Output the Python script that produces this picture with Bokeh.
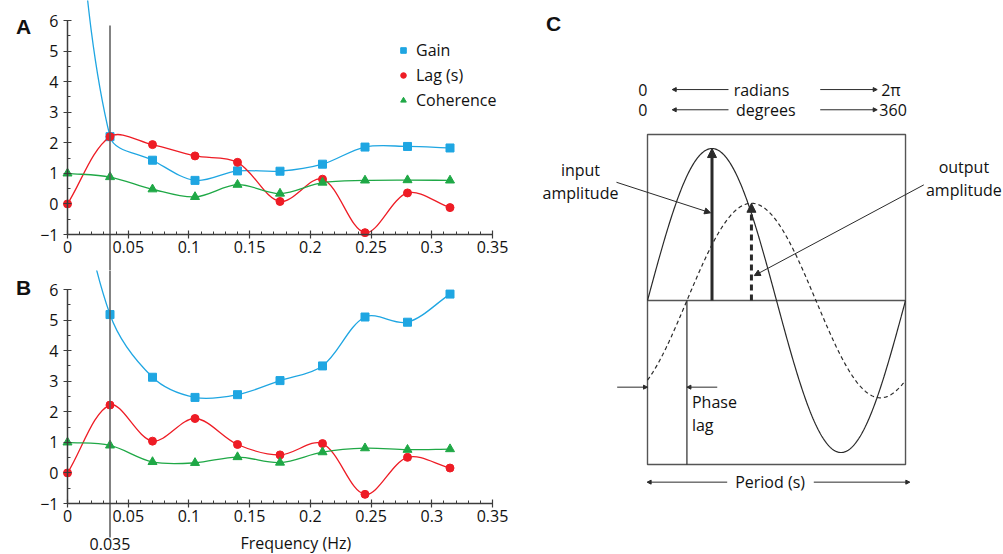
import numpy as np
from bokeh.plotting import figure
from bokeh.layouts import row, column
from bokeh.models import (Range1d, FixedTicker, NumeralTickFormatter, Label, Arrow,
                          NormalHead, Legend, LegendItem, LinearAxis)
from bokeh.embed import file_html
from bokeh.resources import INLINE

# ---------------- data ----------------
freq = [0, 0.035, 0.07, 0.105, 0.14, 0.175, 0.21, 0.245, 0.28, 0.315]
# Panel A  (gain at 0 Hz is off-scale, estimated)
gain_a = [13.0, 2.20, 1.43, 0.77, 1.08, 1.07, 1.30, 1.86, 1.88, 1.83]
lag_a = [0.0, 2.20, 1.94, 1.57, 1.36, 0.08, 0.81, -0.94, 0.36, -0.12]
coh_a = [1.0, 0.88, 0.48, 0.23, 0.63, 0.34, 0.70, 0.77, 0.78, 0.77]
# Panel B  (gain at 0 Hz is off-scale, estimated)
gain_b = [11.0, 5.18, 3.13, 2.47, 2.56, 3.02, 3.50, 5.10, 4.93, 5.85]
lag_b = [0.0, 2.22, 1.04, 1.78, 0.93, 0.59, 0.96, -0.70, 0.51, 0.16]
coh_b = [1.0, 0.90, 0.36, 0.33, 0.52, 0.34, 0.68, 0.81, 0.76, 0.78]

x_ticks = [0, 0.05, 0.1, 0.15, 0.2, 0.25, 0.3, 0.35]
x_minor = [round(0.01 * i, 2) for i in range(36)]
y_ticks = [-1, 0, 1, 2, 3, 4, 5, 6]
y_minor = [-0.5, 0.5, 1.5, 2.5, 3.5, 4.5, 5.5]
marked_freq = 0.035

series_names = ["Gain", "Lag (s)", "Coherence"]
series_colors = ["#1FA6E2", "#EE1C25", "#1FA846"]
series_markers = ["square", "circle", "triangle"]

# diagram parameters (panel C)
input_amp = 1.0
output_amp = 0.64
phase_lag_deg = 55

FONT = "Open Sans"
TXT = "#111111"
AX = "#3c3c3c"

# geometry of the two left panels (pixels)
W_LEFT = 520
PLOT_L, PLOT_W, PLOT_H = 67, 425, 214
X0, X1, Y0, Y1 = 0, 0.35, -1, 6
KX, KY = PLOT_W / (X1 - X0), PLOT_H / (Y1 - Y0)


def smooth(xs, ys):
    """Bezier control points (Excel-like smoothing, chord-length weighted)."""
    P = np.column_stack([np.asarray(xs, float) * KX, np.asarray(ys, float) * KY])
    n = len(P)
    out = {k: [] for k in ("x0", "y0", "x1", "y1", "cx0", "cy0", "cx1", "cy1")}
    for i in range(n - 1):
        a, b = P[i], P[i + 1]
        prev = P[i - 1] if i > 0 else a
        nxt = P[i + 2] if i + 2 < n else b
        dp, dc, dn = np.hypot(*(a - prev)), np.hypot(*(b - a)), np.hypot(*(nxt - b))
        c0 = a + (b - prev) * (dc / (dp + dc)) / 3
        c1 = b - (nxt - a) * (dc / (dc + dn)) / 3
        for k, v in (("x0", a[0]), ("y0", a[1]), ("x1", b[0]), ("y1", b[1]),
                     ("cx0", c0[0]), ("cy0", c0[1]), ("cx1", c1[0]), ("cy1", c1[1])):
            out[k].append(v)
    for k in out:
        s = KX if k.startswith(("x", "cx")) else KY
        out[k] = [v / s for v in out[k]]
    return out


def panel(series, top, height, letter, letter_y, legend=False, extra=None):
    x_start = X0 - PLOT_L / KX
    x_end = X1 + (W_LEFT - PLOT_L - PLOT_W) / KX
    y_end = Y1 + top / KY
    y_start = Y0 - (height - top - PLOT_H) / KY
    p = figure(frame_width=W_LEFT, frame_height=height, x_range=Range1d(x_start, x_end),
               y_range=Range1d(y_start, y_end), x_axis_type=None, y_axis_type=None,
               min_border=0, toolbar_location=None, output_backend="svg")
    p.outline_line_color = None
    xa = LinearAxis(fixed_location=Y0, bounds=(X0, X1),
                    ticker=FixedTicker(ticks=x_ticks, minor_ticks=x_minor),
                    formatter=NumeralTickFormatter(format="0.[00]"))
    ya = LinearAxis(fixed_location=X0, bounds=(Y0, Y1),
                    ticker=FixedTicker(ticks=y_ticks, minor_ticks=y_minor))
    for ax in (xa, ya):
        ax.axis_line_color = AX
        ax.axis_line_width = 1.5
        ax.major_tick_line_color = AX
        ax.minor_tick_line_color = AX
        ax.major_tick_line_width = 1.2
        ax.minor_tick_line_width = 1
        ax.major_tick_in = 4
        ax.major_tick_out = 4
        ax.minor_tick_in = 3
        ax.minor_tick_out = 0
        ax.major_label_text_font = FONT
        ax.major_label_text_font_size = "16px"
        ax.major_label_text_color = TXT
    xa.major_label_standoff = 2
    ya.major_label_standoff = 5
    p.add_layout(xa, "below")
    p.add_layout(ya, "left")

    items = []
    for (ys, name, col, mk) in zip(series, series_names, series_colors, series_markers):
        b = smooth(freq, ys)
        p.bezier(line_color=col, line_width=1.3, **b)
        ll = p.line(x=[], y=[], line_color=col, line_width=1.3)
        sr = p.scatter(freq, ys, marker=mk, size=9 if mk == "triangle" else 8,
                       fill_color=col, line_color=col)
        items.append(LegendItem(label=name, renderers=[ll, sr]))
    if legend:
        lg = Legend(items=items, location=(396, 159.5), border_line_color=None,
                    background_fill_alpha=0, padding=0, margin=0, spacing=3,
                    glyph_width=14, glyph_height=14, label_height=14, label_standoff=6,
                    label_text_font=FONT, label_text_font_size="16px", label_text_color=TXT)
        p.add_layout(lg)
    p.add_layout(Label(x=X0 - 44 / KX, y=letter_y, text=letter, text_font="Liberation Sans",
                       text_font_style="bold", text_font_size="21px", text_align="center",
                       text_baseline="middle", text_color="#111"))
    if extra:
        extra(p, y_start, y_end)
    return p


def extra_a(p, y_start, y_end):
    p.segment(x0=marked_freq, y0=5.84, x1=marked_freq, y1=y_start - 1,
              line_color="#5a5a5a", line_width=1.5)


def extra_b(p, y_start, y_end):
    p.segment(x0=marked_freq, y0=y_end + 1, x1=marked_freq, y1=-2.11,
              line_color="#5a5a5a", line_width=1.5)
    p.add_layout(Label(x=marked_freq, y=-2.32, text=str(marked_freq), text_font=FONT,
                       text_font_size="16px", text_align="center", text_baseline="middle",
                       text_color=TXT))
    p.add_layout(Label(x=0.188, y=-2.30, text="Frequency (Hz)", text_font=FONT,
                       text_font_size="16px", text_align="center", text_baseline="middle",
                       text_color=TXT))


pa = panel([gain_a, lag_a, coh_a], 20, 270, "A", 5.80, legend=True, extra=extra_a)
pb = panel([gain_b, lag_b, coh_b], 19, 284, "B", 6.05, extra=extra_b)

# ---------------- panel C: schematic ----------------
pc = figure(frame_width=483, frame_height=554, x_range=Range1d(-177.2, 496.7),
            y_range=Range1d(-1.671, 1.974), x_axis_type=None, y_axis_type=None,
            min_border=0, toolbar_location=None, output_backend="svg")
pc.outline_line_color = None

LC = "#2a2a2a"
pc.quad(left=0, right=360, bottom=-1.079, top=1.092, fill_color=None, line_color="#555555", line_width=1.4)
pc.segment(x0=0, y0=0, x1=360, y1=0, line_color="#555555", line_width=1.4)
deg = np.linspace(0, 360, 361)
pc.line(deg, input_amp * np.sin(np.radians(deg)), line_color=LC, line_width=1.2)
pc.line(deg, output_amp * np.sin(np.radians(deg - phase_lag_deg)), line_color=LC, line_width=1.2,
        line_dash="4 3")
pc.segment(x0=phase_lag_deg, y0=0, x1=phase_lag_deg, y1=-1.079, line_color=LC, line_width=1.2)


def arrow(x0, y0, x1, y1, w=1.0, head=4, dash="solid"):
    pc.add_layout(Arrow(end=NormalHead(size=head, fill_color=LC, line_color=LC, line_width=1),
                        x_start=x0, y_start=y0, x_end=x1, y_end=y1, line_color=LC, line_width=w,
                        line_dash=dash))


def label(x, y, t, align="center", size="16px"):
    pc.add_layout(Label(x=x, y=y, text=t, text_font=FONT, text_font_size=size, text_align=align,
                        text_baseline="middle", text_color=TXT))


# amplitude arrows
arrow(90, 0, 90, input_amp, w=3, head=9)
arrow(90 + phase_lag_deg, 0, 90 + phase_lag_deg, output_amp, w=3, head=9, dash="6 4")
# header rows
for yy, right_txt, right_x, mid_txt, mid_x in ((1.388, "2π", 326, "radians", 159),
                                                (1.255, "360", 323.5, "degrees", 165)):
    label(-6.5, yy, "0")
    label(mid_x, yy, mid_txt)
    label(right_x, yy, right_txt, align="left")
    arrow(113, yy, 34.5, yy, head=4)
    arrow(241, yy, 320.5, yy, head=4)
# amplitude callouts
label(-93.5, 0.857, "input")
label(-93.5, 0.706, "amplitude")
arrow(-43.3, 0.778, 88.0, 0.577, head=6)
label(441.4, 0.877, "output")
label(441.4, 0.728, "amplitude")
arrow(385.5, 0.761, 149, 0.164, head=6)
# phase lag
arrow(-42.3, -0.570, 0, -0.570, head=4)
arrow(97.3, -0.570, phase_lag_deg, -0.570, head=4)
label(62, -0.665, "Phase", align="left")
label(62, -0.816, "lag", align="left")
# period
label(171, -1.195, "Period (s)")
arrow(111.2, -1.195, -0.5, -1.195, head=4)
arrow(232, -1.195, 366, -1.195, head=4)
pc.add_layout(Label(x=-131, y=1.82, text="C", text_font="Liberation Sans", text_font_style="bold",
                    text_font_size="21px", text_align="center", text_baseline="middle", text_color="#111"))

layout = row(column(pa, pb), pc)
open("out.html", "w").write(file_html(layout, INLINE))
